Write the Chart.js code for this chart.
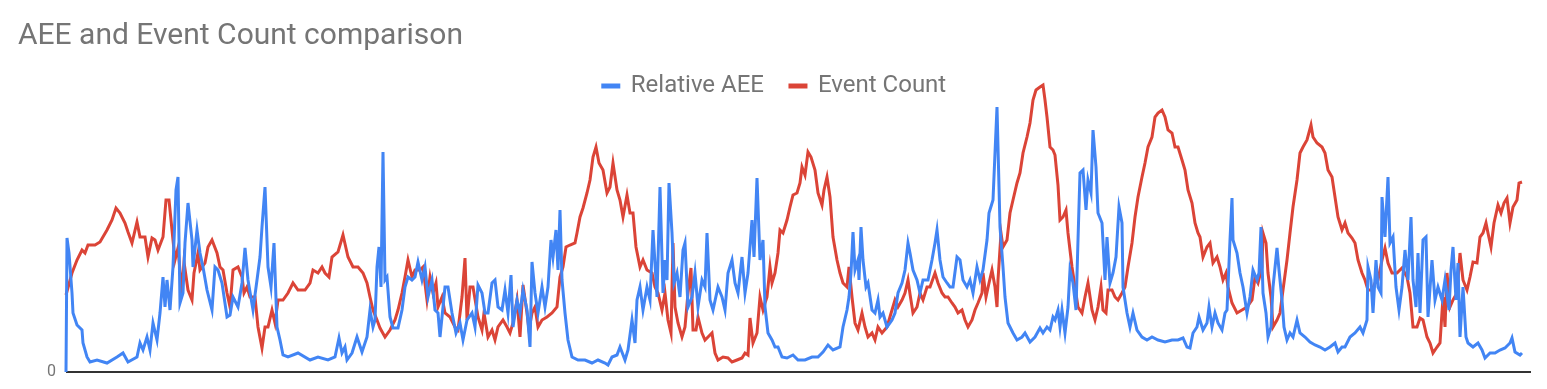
<!DOCTYPE html>
<html>
<head>
<meta charset="utf-8">
<title>AEE and Event Count comparison</title>
<script src="https://cdn.jsdelivr.net/npm/chart.js@4/dist/chart.umd.min.js"></script>
<style>
  html, body { margin: 0; padding: 0; background: #fff; }
  #wrap { width: 1547px; height: 389px; }
</style>
</head>
<body>
<div id="wrap"><canvas id="chart"></canvas></div>
<script>
// sample positions (time index) and values
const aeeT = [0,1,3,6,7,11,16,17,21,24,31,41,51,57,62,71,74,77,81,84,87,91,94,97,99,101,104,107,110,112,114,117,
  119,122,126,127,131,134,137,141,146,149,152,156,161,164,167,172,176,179,182,187,191,194,196,199,202,205,208,211,214,217,222,232,244,252,262,
  269,273,276,279,281,286,291,296,301,304,307,309,311,313,315,317,319,321,324,327,332,336,339,342,346,349,352,356,359,362,366,369,372,374,379,382,386,390,394,397,401,406,
  409,412,416,419,422,426,429,432,436,439,442,445,447,451,454,457,461,464,466,469,472,476,479,482,485,487,490,492,494,496,499,502,506,512,519,526,532,539,542,546,551,554,
  559,562,566,569,571,574,577,581,584,586,587,591,594,597,599,601,603,606,608,611,614,617,619,622,626,629,632,636,639,641,644,647,652,656,659,662,666,669,672,676,679,682,686,688,691,694,697,699,
  702,706,709,712,716,721,727,732,739,746,752,757,762,767,774,777,781,783,785,787,789,792,793,795,797,800,802,806,809,812,814,817,821,826,829,832,836,839,842,
  844,847,851,854,857,862,866,869,871,874,877,881,884,887,891,894,897,901,904,907,911,914,917,921,923,927,929,931,932,934,937,939,942,947,951,956,959,964,969,974,977,981,984,987,
  989,992,994,996,999,1002,1004,1007,1010,1012,1014,1017,1020,1022,1025,1027,1030,1032,1036,1039,1041,1044,1047,1050,1053,1056,1057,1061,1064,1067,1071,1076,1081,1086,1092,1099,1106,1112,1117,1121,1124,1127,1131,1133,
  1137,1141,1143,1146,1149,1152,1156,1159,1161,1164,1166,1167,1171,1174,1177,1181,1184,1187,1191,1193,1195,1197,1200,1202,1205,1207,1211,1213,1216,1218,1221,1224,1227,1231,1234,1239,1244,1249,1254,1259,1264,1269,1272,1276,
  1279,1284,1289,1294,1297,1301,1302,1305,1307,1310,1312,1315,1316,1319,1322,1324,1327,1330,1333,1336,1339,1342,1345,1347,1350,1352,1354,1357,1360,1362,1366,1369,1372,1376,1379,1383,1385,1387,1390,1392,1394,1397,1400,1402,1407,1412,1416,1419,1424,1429,1434,1439,1444,1446,1449,1454,1456];
const aeeV = [0,134,119,79,59,47,42,29,15,10,12,9,15,19,10,15,29,22,35,22,49,32,59,95,65,92,62,105,182,195,69,79,
  129,169,132,105,142,119,105,82,62,105,102,89,55,57,75,65,89,124,92,62,92,115,145,185,105,85,129,45,32,17,15,19,12,15,12,
  15,34,19,25,12,19,35,20,35,62,45,52,105,125,85,220,92,95,55,44,44,62,85,95,92,95,110,92,105,75,92,62,59,35,85,85,59,39,49,32,52,59,
  45,87,79,59,59,89,92,65,62,82,59,97,45,72,59,82,62,25,110,79,59,85,65,85,132,115,142,102,162,92,59,32,15,12,12,9,12,9,7,15,17,25,
  12,22,52,29,72,85,62,85,72,119,142,75,185,79,112,92,189,139,89,99,75,122,129,65,75,99,65,92,85,139,72,62,85,75,62,99,112,89,79,115,79,99,152,115,194,112,132,65,
  39,32,25,25,15,14,17,12,12,15,15,20,27,22,25,45,62,75,99,140,102,112,92,145,112,85,89,62,59,72,55,59,45,52,59,79,89,102,129,
  119,102,92,79,92,92,112,129,142,112,95,89,85,85,115,112,92,85,92,79,105,92,102,132,159,172,219,265,225,145,105,75,49,39,32,35,39,30,35,44,39,45,42,55,
  52,62,45,62,39,65,102,89,62,132,199,202,162,192,179,242,205,159,149,92,135,89,99,115,165,149,85,59,45,59,42,35,32,35,32,30,32,32,34,25,24,39,45,55,
  42,49,65,45,59,49,42,59,62,132,174,132,119,99,85,59,75,102,92,99,145,79,59,35,45,85,124,102,72,45,32,39,35,52,39,35,30,27,25,22,25,29,20,25,
  25,35,39,45,39,52,105,92,59,112,85,79,175,135,195,129,135,85,62,85,122,92,155,92,65,119,59,132,135,55,112,72,85,72,92,62,102,125,72,109,35,85,35,29,25,29,22,14,19,19,22,24,29,34,20,17,19];

const evtT = [0,6,11,16,19,22,29,34,41,46,50,54,59,62,66,71,74,79,82,86,89,92,97,100,103,106,109,112,116,118,
  122,126,128,132,134,139,142,146,151,154,157,161,164,167,172,176,178,181,184,189,192,196,199,202,206,209,212,217,222,227,232,239,244,247,252,256,259,263,266,
  272,277,282,287,292,297,301,304,307,311,314,319,324,329,332,336,339,342,346,349,354,357,361,364,367,370,372,376,379,384,389,392,396,399,401,404,407,
  412,416,418,422,426,429,432,437,441,444,447,451,454,457,461,463,466,469,472,476,481,486,491,494,497,500,504,509,511,514,517,521,524,527,530,533,537,541,544,547,551,554,
  557,561,564,567,570,574,577,581,586,589,592,596,599,602,605,607,609,612,616,619,622,625,627,630,632,636,639,642,646,649,652,657,662,666,671,676,679,682,684,687,691,694,697,699,701,
  704,706,709,712,714,717,721,724,727,731,734,736,739,742,745,749,752,756,758,761,764,767,771,774,777,781,783,786,789,792,796,799,802,806,809,812,816,821,826,829,832,836,839,842,
  844,847,851,854,857,861,864,869,872,876,879,882,886,889,892,896,899,902,906,909,912,916,917,920,923,926,929,931,932,935,937,941,944,947,951,954,957,961,964,967,970,974,977,979,981,984,987,
  989,992,994,997,1000,1002,1006,1009,1012,1016,1019,1022,1026,1029,1032,1035,1037,1040,1042,1046,1049,1052,1056,1059,1062,1066,1069,1072,1076,1079,1082,1086,1089,1092,1096,1099,1102,1106,1109,1112,1116,1119,1122,1126,1129,1132,
  1134,1137,1141,1144,1147,1151,1154,1157,1160,1162,1166,1171,1176,1181,1186,1189,1192,1196,1197,1200,1202,1205,1207,1211,1214,1217,1221,1224,1227,1231,1234,1237,1241,1245,1247,1251,1256,1259,1262,1266,1269,1272,1276,1279,1282,
  1286,1289,1292,1296,1299,1302,1306,1309,1312,1316,1319,1322,1326,1331,1336,1341,1344,1347,1351,1354,1357,1361,1364,1367,1371,1374,1377,1379,1381,1384,1387,1391,1394,1397,1401,1404,1407,1411,1414,1417,1420,1422,1425,1428,1432,1435,1438,1441,1444,1447,1451,1453,1456];
const evtV = [77,99,112,122,119,127,127,130,142,152,164,159,149,140,129,150,135,135,115,134,132,122,135,172,172,142,112,124,79,110,
  82,72,99,119,102,109,125,132,119,105,102,79,65,102,105,95,79,85,75,75,45,24,45,45,62,49,72,72,79,89,82,82,89,102,99,105,99,95,115,
  120,137,115,105,105,99,89,75,62,52,44,35,42,52,62,79,95,112,95,102,102,105,72,95,79,89,65,75,59,55,45,42,75,114,52,85,85,
  55,42,59,35,42,32,45,52,45,39,49,72,35,87,59,42,59,65,45,52,55,59,65,95,105,125,127,129,139,155,164,179,192,215,225,209,202,179,185,209,182,172,
  155,177,159,159,125,105,112,102,99,85,79,62,79,52,39,129,65,49,35,45,79,104,42,42,55,39,32,35,39,19,12,15,14,10,12,14,19,17,54,29,39,75,62,69,75,
  105,89,99,119,142,139,152,165,177,179,189,205,197,220,215,202,179,167,182,195,175,135,112,99,89,85,105,75,49,42,59,45,35,39,32,45,39,45,62,72,65,72,79,92,
  78,59,65,79,72,85,85,99,89,79,75,75,69,65,59,62,52,45,52,62,69,79,99,75,89,102,85,65,92,139,125,132,159,172,189,199,219,235,249,272,282,285,287,272,255,225,222,
  217,187,152,155,162,139,105,85,65,59,75,89,62,52,65,85,62,59,82,82,75,72,79,85,105,129,155,175,195,209,225,235,255,259,262,255,242,239,225,225,212,202,182,169,149,139,
  135,115,125,129,109,115,105,92,99,85,69,59,62,65,72,95,89,105,139,129,99,75,45,52,59,82,112,139,165,192,219,225,232,247,235,229,225,219,202,195,175,155,142,149,139,
  134,129,112,99,92,82,82,89,92,112,124,109,99,99,104,95,79,45,45,54,52,35,29,19,25,29,75,45,99,65,72,79,119,92,82,95,110,109,135,139,149,139,125,149,167,159,169,174,149,165,172,189,190];

const seriesNames = ["Relative AEE", "Event Count"];
const TEXT = "#757575";
const C = { blue: "#4285F4", red: "#DB4437" };

const pts = (t, v) => t.map((x, i) => ({ x, y: v[i] }));
const line = (label, data, color) => ({
  label, data, borderColor: color, backgroundColor: color,
  borderWidth: 3, pointRadius: 0, tension: 0, clip: false,
});

new Chart(document.getElementById("chart"), {
  type: "line",
  data: { datasets: [
    line(seriesNames[0], pts(aeeT, aeeV), C.blue),
    line(seriesNames[1], pts(evtT, evtV), C.red),
  ] },
  options: {
    animation: false, responsive: true, maintainAspectRatio: false,
    layout: { padding: { left: 18, right: 16, top: 0, bottom: 17 } },
    plugins: {
      title: { display: true, text: "AEE and Event Count comparison", align: "start", color: TEXT,
        font: { family: "Roboto", size: 30, weight: "normal", lineHeight: 0.8 }, padding: { top: 24, bottom: 0 } },
      legend: { position: "top", align: "center",
        labels: { color: TEXT, font: { family: "Roboto", size: 24 }, boxWidth: 16, boxHeight: 2, padding: 26 } },
      tooltip: { enabled: false },
    },
    scales: {
      // a little empty room after the last sample, as in the original
      x: { type: "linear", min: 0, max: 1465, display: false },
      y: { min: 0, max: 264,
        // fixed axis width; the lone "0" label may hang below the plot
        afterFit: (s) => { s.width = 48; s.paddingTop = 0; s.paddingBottom = 0; },
        afterBuildTicks: (s) => { s.ticks = [{ value: 0 }]; },
        ticks: { color: TEXT, font: { family: "Roboto", size: 16 }, padding: 10 },
        grid: { color: "#333", lineWidth: 2, drawTicks: false },
        border: { display: false } },
    },
  },
});
</script>
</body>
</html>
